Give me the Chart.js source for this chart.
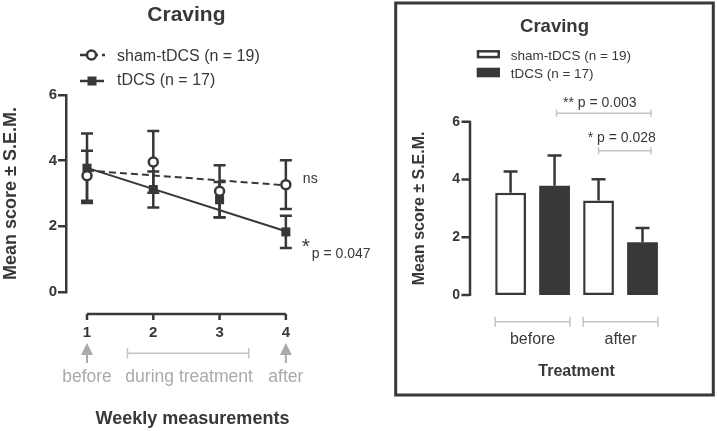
<!DOCTYPE html>
<html>
<head>
<meta charset="utf-8">
<script src="https://cdn.jsdelivr.net/npm/chart.js@4.4.1/dist/chart.umd.min.js"></script>
<style>
html,body{margin:0;padding:0;background:#fff;}
body{width:717px;height:431px;position:relative;overflow:hidden;}
#chartWeeks{position:absolute;left:0;top:0;}
#chartTreat{position:absolute;left:394px;top:1px;}
</style>
</head>
<body>
<canvas id="chartWeeks" width="390" height="431"></canvas>
<canvas id="chartTreat" width="321" height="396"></canvas>
<script>
// weekly measurements, mean and S.E.M.
const weeks = [1, 2, 3, 4];
const shamMean = [3.54, 3.96, 3.07, 3.27];
const shamSem = [0.76, 0.94, 0.79, 0.74];
const tdcsMean = [3.77, 3.12, 2.81, 1.83];
const tdcsSem = [1.06, 0.55, 0.54, 0.49];
// trend lines, value at week 1 and week 4
const trendWeeks = [1, 4];
const shamTrend = [3.70, 3.25];
const tdcsTrend = [3.78, 1.85];
const yTicks = [0, 2, 4, 6];
const phases = ["before", "during treatment", "after"];
const phasePos = [1, 2.54, 4];

// before / after
const groups = ["before", "after"];
const barSham = [3.54, 3.27];
const barShamSem = [0.74, 0.74];
const barTdcs = [3.78, 1.83];
const barTdcsSem = [1.05, 0.49];

const seriesNames = ["sham-tDCS (n = 19)", "tDCS (n = 17)"];

const DARK = "#383838";
const GREY = "#aaaaaa";
const LIGHT = "#c4c4c4";
const FONT = "'Liberation Sans', Arial, sans-serif";
Chart.defaults.font.family = FONT;
Chart.defaults.color = DARK;

function pts(xs, ys){
return xs.map((x,i)=>({x:x, y:ys[i]}));
}

function fixTicks(list){
return s => { s.ticks = list.map(v=>({value:v})); };
}

function txt(ctx, s, x, y, font, color, align, base){
ctx.font = font;
ctx.fillStyle = color;
ctx.textAlign = align || "left";
ctx.textBaseline = base || "middle";
ctx.fillText(s, x, y);
}

const weeksDecor = {
id:"weeksDecor",
beforeDatasetsDraw(chart){
const {ctx, scales:{x, y}} = chart;
ctx.save();
ctx.strokeStyle = DARK;
ctx.lineWidth = 2.5;
chart.data.datasets.forEach(ds => {
if(!ds.sem) return;
ds.data.forEach((p,i) => {
const px = x.getPixelForValue(p.x);
const top = y.getPixelForValue(p.y + ds.sem[i]);
const bot = y.getPixelForValue(p.y - ds.sem[i]);
ctx.beginPath();
ctx.moveTo(px, top); ctx.lineTo(px, bot);
ctx.moveTo(px-6, top); ctx.lineTo(px+6, top);
ctx.moveTo(px-6, bot); ctx.lineTo(px+6, bot);
ctx.stroke();
});
});
ctx.restore();
},
afterDraw(chart){
const {ctx, chartArea, scales:{x, y}} = chart;
const x1 = x.getPixelForValue(weeks[0]);
const x4 = x.getPixelForValue(weeks[3]);
ctx.save();

txt(ctx, "Craving", (x1+x4)/2, 15, "bold 21px " + FONT, DARK, "center");

// legend
ctx.strokeStyle = DARK;
ctx.lineWidth = 2.5;
ctx.setLineDash([7,4]);
ctx.beginPath(); ctx.moveTo(80, 55); ctx.lineTo(105, 55); ctx.stroke();
ctx.setLineDash([]);
ctx.beginPath(); ctx.arc(91.5, 55, 4.5, 0, Math.PI*2);
ctx.fillStyle = "#fff"; ctx.fill(); ctx.stroke();
ctx.beginPath(); ctx.moveTo(80, 81); ctx.lineTo(104, 81); ctx.stroke();
ctx.fillStyle = DARK;
ctx.fillRect(87.5, 76.5, 9, 9);
txt(ctx, seriesNames[0], 117, 56.5, "16px " + FONT, DARK);
txt(ctx, seriesNames[1], 117, 81, "16px " + FONT, DARK);

// detached x axis line
const ay = chartArea.bottom + 22;
ctx.beginPath();
ctx.moveTo(x1, ay); ctx.lineTo(x4, ay);
weeks.forEach(w => {
const px = x.getPixelForValue(w);
ctx.moveTo(px, ay); ctx.lineTo(px, ay + 6);
});
ctx.stroke();

// significance labels
const sy = y.getPixelForValue(shamMean[3]);
const ty = y.getPixelForValue(tdcsMean[3]);
txt(ctx, "ns", x4 + 17, sy - 5, "14px " + FONT, DARK);
txt(ctx, "*", x4 + 20, ty + 21, "21px " + FONT, DARK, "center", "alphabetic");
txt(ctx, "p = 0.047", x4 + 26, ty + 22, "14px " + FONT, DARK);

// treatment phases
ctx.fillStyle = GREY;
ctx.strokeStyle = LIGHT;
[weeks[0], weeks[3]].forEach(w => {
const px = x.getPixelForValue(w);
ctx.beginPath();
ctx.moveTo(px, 343); ctx.lineTo(px + 6, 355); ctx.lineTo(px - 6, 355);
ctx.closePath(); ctx.fill();
ctx.fillRect(px - 1, 355, 2, 8);
});
const b1 = x.getPixelForValue(1.61);
const b2 = x.getPixelForValue(3.44);
ctx.lineWidth = 1.5;
ctx.beginPath();
ctx.moveTo(b1, 353.3); ctx.lineTo(b2, 353.3);
ctx.moveTo(b1, 348); ctx.lineTo(b1, 358.5);
ctx.moveTo(b2, 348); ctx.lineTo(b2, 358.5);
ctx.stroke();
phases.forEach((p,i) => {
txt(ctx, p, x.getPixelForValue(phasePos[i]), 377, "17.5px " + FONT, GREY, "center");
});
ctx.restore();
}
};

const weeksChart = new Chart(document.getElementById("chartWeeks"), {
type:"scatter",
data:{
datasets:[
{label:seriesNames[0], data:pts(weeks, shamMean), sem:shamSem, pointStyle:"circle", pointRadius:4.5, pointBorderWidth:2.5, pointBackgroundColor:"#fff", pointBorderColor:DARK},
{label:seriesNames[1], data:pts(weeks, tdcsMean), sem:tdcsSem, pointStyle:"rect", pointRadius:6.4, pointBorderWidth:0, pointBackgroundColor:DARK, pointBorderColor:DARK},
{type:"line", data:pts(trendWeeks, shamTrend), borderColor:DARK, borderWidth:2, borderDash:[7,4], pointRadius:0, fill:false},
{type:"line", data:pts(trendWeeks, tdcsTrend), borderColor:DARK, borderWidth:2, pointRadius:0, fill:false}
]
},
options:{
responsive:false,
animation:false,
events:[],
layout:{padding:{left:0, right:71, top:95, bottom:0}},
plugins:{legend:{display:false}, tooltip:{enabled:false}, title:{display:false}},
scales:{
x:{
type:"linear", min:0.683, max:4.5,
afterBuildTicks:fixTicks(weeks),
grid:{display:false, drawTicks:false},
border:{display:false},
ticks:{font:{size:15, weight:"bold"}, color:DARK, padding:32, autoSkip:false, maxRotation:0},
title:{display:true, text:"Weekly measurements", font:{size:18, weight:"bold"}, color:DARK, padding:{top:0, bottom:1.5}},
afterFit:s => { s.height = 139; }
},
y:{
min:0, max:6,
afterBuildTicks:fixTicks(yTicks),
grid:{drawOnChartArea:false, drawTicks:true, tickLength:8, color:DARK, lineWidth:2.5},
border:{display:true, color:DARK, width:2.5},
ticks:{font:{size:15, weight:"bold"}, color:DARK, padding:1},
title:{display:true, text:"Mean score ± S.E.M.", font:{size:18, weight:"bold"}, color:DARK, padding:{top:0, bottom:0}},
afterFit:s => { s.width = 66; }
}
}
},
plugins:[weeksDecor]
});

const treatDecor = {
id:"treatDecor",
afterDatasetsDraw(chart){
const {ctx, scales:{y}} = chart;
ctx.save();
ctx.strokeStyle = DARK;
ctx.lineWidth = 2.5;
chart.data.datasets.forEach((ds,d) => {
const meta = chart.getDatasetMeta(d);
ds.data.forEach((v,i) => {
const px = meta.data[i].x;
const top = y.getPixelForValue(v + ds.sem[i]);
const base = y.getPixelForValue(v);
ctx.beginPath();
ctx.moveTo(px, base); ctx.lineTo(px, top);
ctx.moveTo(px-7, top); ctx.lineTo(px+7, top);
ctx.stroke();
});
});
ctx.restore();
},
afterDraw(chart){
const {ctx, width, height, scales:{y}} = chart;
const ms = chart.getDatasetMeta(0).data;
const mt = chart.getDatasetMeta(1).data;
ctx.save();

// frame
ctx.strokeStyle = DARK;
ctx.lineWidth = 3;
ctx.strokeRect(1.7, 2, width - 3.4, height - 4);

txt(ctx, "Craving", 160.5, 25.7, "bold 18.5px " + FONT, DARK, "center");

// legend
ctx.lineWidth = 2.5;
ctx.strokeRect(84, 50.3, 20.7, 5.8);
ctx.fillStyle = DARK;
ctx.fillRect(82.7, 66.7, 23.3, 9.6);
txt(ctx, seriesNames[0], 116.7, 54.8, "13.5px " + FONT, DARK);
txt(ctx, seriesNames[1], 116.7, 73, "13.5px " + FONT, DARK);

// y axis line, detached from the bars
const top = y.getPixelForValue(6);
const bot = y.getPixelForValue(0);
ctx.strokeStyle = DARK;
ctx.lineWidth = 2.5;
ctx.beginPath();
ctx.moveTo(76, top - 1); ctx.lineTo(76, bot + 1);
yTicks.forEach(v => {
const py = y.getPixelForValue(v);
ctx.moveTo(67.5, py); ctx.lineTo(76, py);
});
ctx.stroke();

// comparison brackets
ctx.strokeStyle = LIGHT;
ctx.lineWidth = 1.5;
function bracket(a, b, yy, h){
ctx.beginPath();
ctx.moveTo(a, yy); ctx.lineTo(b, yy);
ctx.moveTo(a, yy - h); ctx.lineTo(a, yy + h);
ctx.moveTo(b, yy - h); ctx.lineTo(b, yy + h);
ctx.stroke();
}
const a1 = mt[0].x + 2, b1 = mt[1].x + 8.5;
bracket(a1, b1, 112.3, 3.5);
txt(ctx, "** p = 0.003", (a1+b1)/2 - 4, 102.3, "14px " + FONT, DARK, "center");
const a2 = ms[1].x, b2 = mt[1].x + 8.5;
bracket(a2, b2, 149.7, 3.5);
txt(ctx, "* p = 0.028", (a2+b2)/2 - 3, 137.3, "14px " + FONT, DARK, "center");

// group brackets under the bars
groups.forEach((g,i) => {
bracket(ms[i].x - ms[i].width/2, mt[i].x + mt[i].width/2, 320.7, 5);
});
ctx.restore();
}
};

const treatChart = new Chart(document.getElementById("chartTreat"), {
type:"bar",
data:{
labels:groups,
datasets:[
{label:seriesNames[0], data:barSham, sem:barShamSem, backgroundColor:"#fff", borderColor:DARK, borderWidth:2.5, borderSkipped:false, categoryPercentage:1.0, barPercentage:0.7},
{label:seriesNames[1], data:barTdcs, sem:barTdcsSem, backgroundColor:DARK, borderColor:DARK, borderWidth:0, borderSkipped:false, categoryPercentage:1.0, barPercentage:0.7}
]
},
options:{
responsive:false,
animation:false,
events:[],
layout:{padding:{left:0, right:50.5, top:120.7, bottom:0}},
plugins:{legend:{display:false}, tooltip:{enabled:false}, title:{display:false}},
scales:{
x:{
grid:{display:false, drawTicks:false},
border:{display:false},
ticks:{font:{size:16}, color:DARK, padding:35},
title:{display:true, text:"Treatment", font:{size:16, weight:"bold"}, color:DARK, padding:{top:0, bottom:15.4}},
afterFit:s => { s.height = 102; }
},
y:{
min:0, max:6,
afterBuildTicks:fixTicks(yTicks),
grid:{display:false, drawTicks:false},
border:{display:false},
ticks:{font:{size:14, weight:"bold"}, color:DARK, padding:28.6},
title:{display:true, text:"Mean score ± S.E.M.", font:{size:16, weight:"bold"}, color:DARK, padding:{top:16.4, bottom:0}},
afterFit:s => { s.width = 94.6; }
}
}
},
plugins:[treatDecor]
});
</script>
</body>
</html>
